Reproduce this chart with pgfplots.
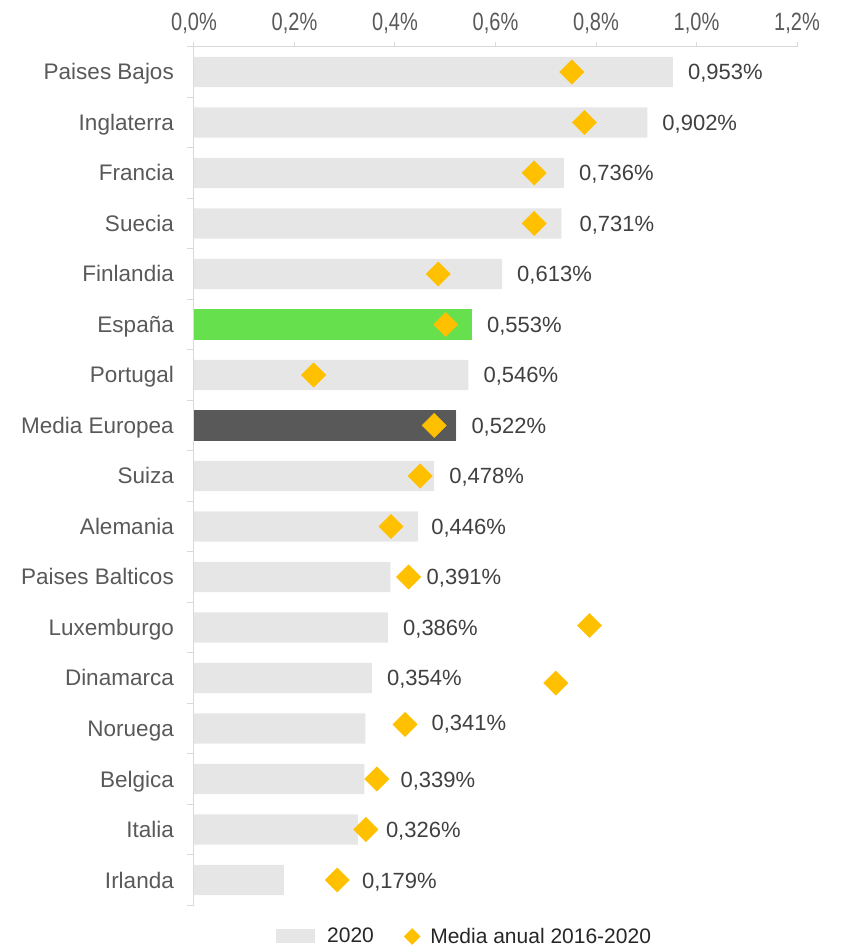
\documentclass[border=0pt]{standalone}
\usepackage{pgfplots}
\pgfplotsset{compat=1.18}
\usepackage{pgfplotstable}
\usepackage{fontspec}
\setmainfont{Liberation Sans}
\usepackage{graphicx}
\definecolor{barg}{HTML}{E6E6E6}
\definecolor{esp}{HTML}{66E14D}
\definecolor{med}{HTML}{595959}
\definecolor{gold}{HTML}{FFC000}
\definecolor{axisc}{HTML}{D9D9D9}
\definecolor{tickc}{HTML}{595959}
\definecolor{labc}{HTML}{404040}
\definecolor{legc}{HTML}{262626}
\newcommand\xt[1]{\scalebox{0.8}[1]{#1}}

\pgfplotstableread[col sep=semicolon]{
name;y;val;avg;ay;dx;dy
Paises Bajos;16;0.953;0.752;16;0;0
Inglaterra;15;0.902;0.777;15;0;0
Francia;14;0.736;0.677;14;0;0
Suecia;13;0.731;0.677;13;3;0
Finlandia;12;0.613;0.486;12;0;0
España;11;0.553;0.501;11;0;0
Portugal;10;0.546;0.238;10;0;0
Media Europea;9;0.522;0.478;9;0;0
Suiza;8;0.478;0.450;8;0;0
Alemania;7;0.446;0.392;7;-2;0
Paises Balticos;6;0.391;0.427;6;21;0
Luxemburgo;5;0.386;0.787;5.04;0;0
Dinamarca;4;0.354;0.720;3.9;0;0
Noruega;3;0.341;0.420;3.08;51;6
Belgica;2;0.339;0.364;2;21;0
Italia;1;0.326;0.342;1;13;0
Irlanda;0;0.179;0.285;0;63;0
}\data

\pgfplotstableread[col sep=semicolon]{
y;val
11;0.553
}\espdata
\pgfplotstableread[col sep=semicolon]{
y;val
9;0.522
}\meddata

\begin{document}
\begin{tikzpicture}
\useasboundingbox (-194pt,-45.75pt) rectangle (648pt,905.25pt);
\begin{axis}[
  at={(0pt,0pt)}, anchor=south west,
  scale only axis, width=603pt, height=858.5pt,
  xmin=0, xmax=1.2, ymin=-0.5, ymax=16.5,
  clip=false,
  axis x line*=top, axis y line*=left,
  axis line style={draw=axisc, line width=1pt},
  tick align=outside,
  major tick length=5pt, minor tick length=7pt,
  xtick={0,0.2,0.4,0.6,0.8,1.0,1.2},
  xticklabels={{\xt{0,0\%}},{\xt{0,2\%}},{\xt{0,4\%}},{\xt{0,6\%}},{\xt{0,8\%}},{\xt{1,0\%}},{\xt{1,2\%}}},
  xticklabel style={font=\fontsize{25}{30}\selectfont, text=tickc, yshift=5pt},
  x tick style={draw=axisc, line width=1pt},
  ytick={0,...,16},
  yticklabels={Irlanda,Italia,Belgica,Noruega,Dinamarca,Luxemburgo,Paises Balticos,Alemania,Suiza,Media Europea,Portugal,España,Finlandia,Suecia,Francia,Inglaterra,Paises Bajos},
  yticklabel style={font=\fontsize{22.5}{26}\selectfont, text=tickc, inner sep=0pt, anchor=base east, xshift=-15pt, yshift=-8pt},
  y tick style={draw=none},
  minor ytick={-0.5,0.5,...,16.5},
  minor y tick style={draw=axisc, line width=1pt},
  legend style={at={(0.136,-0.024)}, anchor=north west, draw=none, fill=none,
    font=\fontsize{21}{25}\selectfont, text=legc, legend columns=2,
    inner sep=0pt,
    /tikz/every even column/.append style={column sep=28pt}},
  legend cell align=left,
]
\addplot[xbar, bar width=0.6, bar shift=0pt, fill=barg, draw=none,
  nodes near coords={\pgfmathprintnumber[fixed,fixed zerofill,precision=3,use comma,assume math mode=true]{\pgfplotspointmeta}\%},
  point meta=x,
  visualization depends on={\thisrow{dx} \as \dx},
  visualization depends on={\thisrow{dy} \as \dy},
  nodes near coords style={anchor=base west, inner sep=0pt, text=labc, font=\fontsize{22}{26}\selectfont, xshift={(15+\dx)*1pt}, yshift={(\dy-8)*1pt}},
  legend image code/.code={\fill[barg] (0pt,-7pt) rectangle (39pt,7pt); \path (49pt,0pt);}
] table[x=val, y=y]{\data};
\addlegendentry{2020}
\addplot[xbar, bar width=0.6, bar shift=0pt, fill=esp, draw=none, forget plot] table[x=val, y=y]{\espdata};
\addplot[xbar, bar width=0.6, bar shift=0pt, fill=med, draw=none, forget plot] table[x=val, y=y]{\meddata};
\addplot[only marks, color=gold, mark=square*, mark size=8.6pt, mark options={rotate=45, fill=gold, draw=gold},
  legend image code/.code={\fill[gold] (0pt,0pt) -- (8pt,8pt) -- (16pt,0pt) -- (8pt,-8pt) -- cycle; \path (24pt,0pt);}
] table[x=avg, y=ay]{\data};
\addlegendentry{Media anual 2016-2020}
\end{axis}
\end{tikzpicture}
\end{document}
